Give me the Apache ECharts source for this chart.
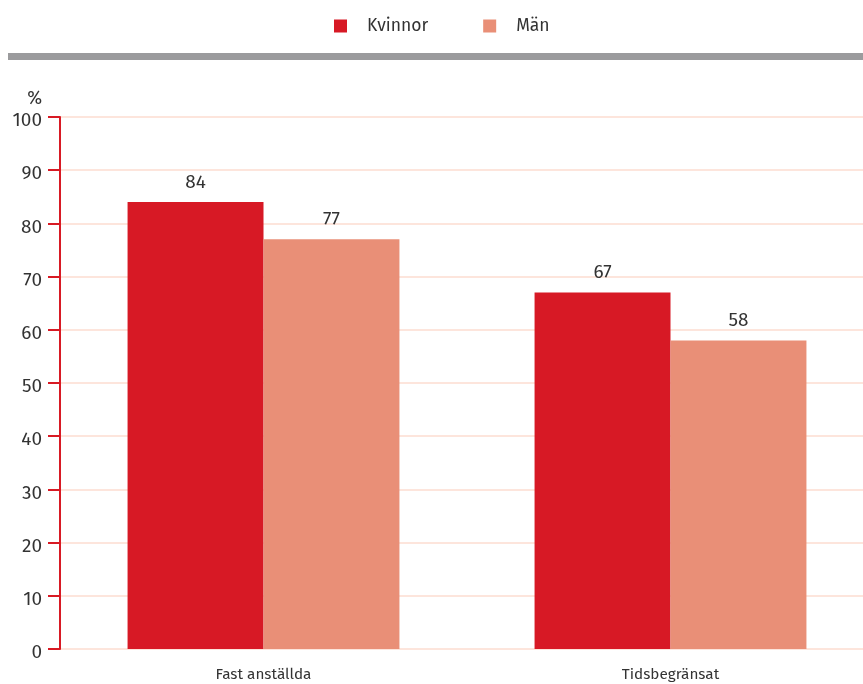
<!DOCTYPE html>
<html><head><meta charset="utf-8">
<script src="https://cdn.jsdelivr.net/npm/echarts@6/dist/echarts.min.js"></script>
<style>html,body{margin:0;padding:0;background:#fff}#c{width:863px;height:684px}</style>
</head><body><div id="c"></div>
<script>
const categories = ['Fast anställda', 'Tidsbegränsat'];
const kvinnor = [84, 67];
const man = [77, 58];
const yTicks = [0, 10, 20, 30, 40, 50, 60, 70, 80, 90, 100];

const chart = echarts.init(document.getElementById('c'));
const font = '"Fira Sans","Open Sans","Noto Sans",sans-serif';
chart.setOption({
  animation: false,
  textStyle: { fontFamily: font },
  graphic: [{ type: 'rect', left: 8, top: 53, shape: { width: 855, height: 7 }, style: { fill: '#9b9b9d' } }],
  legend: {
    top: 12, left: 329, itemWidth: 13, itemHeight: 13, itemGap: 55, icon: 'rect',
    textStyle: { fontSize: 17.5, color: '#333', padding: [0, 0, 0, 15], fontFamily: font }
  },
  grid: { left: 60, top: 117, bottom: 35, width: 814, outerBoundsMode: 'none', containLabel: false },
  xAxis: {
    type: 'category', data: categories,
    axisLine: { show: false }, axisTick: { show: false },
    axisLabel: { fontSize: 15.3, color: '#333', margin: 18 }
  },
  yAxis: {
    type: 'value', min: 0, max: 100, interval: 10,
    name: '%', nameLocation: 'end', nameGap: 9,
    nameTextStyle: { fontSize: 18, color: '#333', align: 'right', padding: [0, 18, 0, 0] },
    axisLine: { show: true, lineStyle: { color: '#d81a24', width: 2 } },
    axisTick: { show: true, length: 12, lineStyle: { color: '#d81a24', width: 2 } },
    axisLabel: {
      color: '#333', margin: 18,
      formatter: v => yTicks.includes(v) ? '{a|' + v + '}' : '',
      rich: { a: { fontSize: 19, color: '#333', fontFamily: font, padding: [8, 0, 0, 0] } }
    },
    splitLine: { lineStyle: { color: '#fcdcd0', width: 1.5 } }
  },
  series: [
    { name: 'Kvinnor', type: 'bar', data: kvinnor, barWidth: '33.4%', barGap: '0%',
      itemStyle: { color: '#d71925' },
      label: { show: true, position: 'top', distance: 10, fontSize: 19, color: '#333' } },
    { name: 'Män', type: 'bar', data: man, barWidth: '33.4%',
      itemStyle: { color: '#e98f77' },
      label: { show: true, position: 'top', distance: 10, fontSize: 19, color: '#333' } }
  ]
});
</script></body></html>
